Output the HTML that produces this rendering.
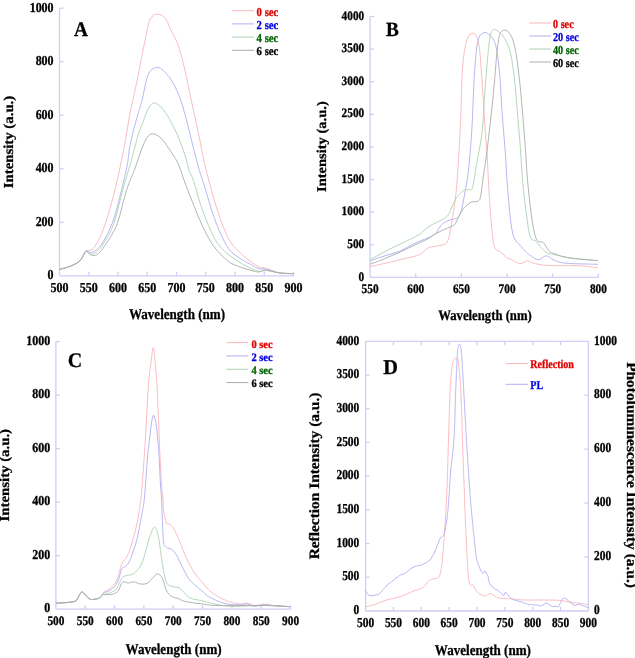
<!DOCTYPE html>
<html><head><meta charset="utf-8"><style>
html,body{margin:0;padding:0;background:#fff;}
body{width:635px;height:658px;overflow:hidden;}
svg{display:block;will-change:transform;}
text{font-family:"Liberation Serif", serif;font-weight:bold;text-rendering:geometricPrecision;}
</style></head><body>
<svg width="635" height="658" viewBox="0 0 635 658">
<rect width="635" height="658" fill="#fff"/>
<line x1="59.50" y1="8.20" x2="59.50" y2="275.80" stroke="#cecdf6" stroke-width="1.30"/>
<line x1="59.50" y1="275.80" x2="293.50" y2="275.80" stroke="#cecdf6" stroke-width="1.30"/>
<line x1="88.75" y1="275.80" x2="88.75" y2="271.80" stroke="#cecdf6" stroke-width="1.30"/>
<line x1="118.00" y1="275.80" x2="118.00" y2="271.80" stroke="#cecdf6" stroke-width="1.30"/>
<line x1="147.25" y1="275.80" x2="147.25" y2="271.80" stroke="#cecdf6" stroke-width="1.30"/>
<line x1="176.50" y1="275.80" x2="176.50" y2="271.80" stroke="#cecdf6" stroke-width="1.30"/>
<line x1="205.75" y1="275.80" x2="205.75" y2="271.80" stroke="#cecdf6" stroke-width="1.30"/>
<line x1="235.00" y1="275.80" x2="235.00" y2="271.80" stroke="#cecdf6" stroke-width="1.30"/>
<line x1="264.25" y1="275.80" x2="264.25" y2="271.80" stroke="#cecdf6" stroke-width="1.30"/>
<line x1="293.50" y1="275.80" x2="293.50" y2="271.80" stroke="#cecdf6" stroke-width="1.30"/>
<line x1="59.50" y1="222.28" x2="63.50" y2="222.28" stroke="#cecdf6" stroke-width="1.30"/>
<line x1="59.50" y1="168.76" x2="63.50" y2="168.76" stroke="#cecdf6" stroke-width="1.30"/>
<line x1="59.50" y1="115.24" x2="63.50" y2="115.24" stroke="#cecdf6" stroke-width="1.30"/>
<line x1="59.50" y1="61.72" x2="63.50" y2="61.72" stroke="#cecdf6" stroke-width="1.30"/>
<line x1="59.50" y1="8.20" x2="63.50" y2="8.20" stroke="#cecdf6" stroke-width="1.30"/>
<text transform="translate(53.60,279.30) scale(0.8750,1.0000)" font-size="13.70" text-anchor="end" fill="#000" stroke="#000" stroke-width="0.30" stroke-linejoin="round">0</text>
<text transform="translate(53.60,225.78) scale(0.8750,1.0000)" font-size="13.70" text-anchor="end" fill="#000" stroke="#000" stroke-width="0.30" stroke-linejoin="round">200</text>
<text transform="translate(53.60,172.26) scale(0.8750,1.0000)" font-size="13.70" text-anchor="end" fill="#000" stroke="#000" stroke-width="0.30" stroke-linejoin="round">400</text>
<text transform="translate(53.60,118.74) scale(0.8750,1.0000)" font-size="13.70" text-anchor="end" fill="#000" stroke="#000" stroke-width="0.30" stroke-linejoin="round">600</text>
<text transform="translate(53.60,65.22) scale(0.8750,1.0000)" font-size="13.70" text-anchor="end" fill="#000" stroke="#000" stroke-width="0.30" stroke-linejoin="round">800</text>
<text transform="translate(53.60,11.70) scale(0.8750,1.0000)" font-size="13.70" text-anchor="end" fill="#000" stroke="#000" stroke-width="0.30" stroke-linejoin="round">1000</text>
<text transform="translate(59.50,291.90) scale(0.8750,1.0000)" font-size="13.70" text-anchor="middle" fill="#000" stroke="#000" stroke-width="0.30" stroke-linejoin="round">500</text>
<text transform="translate(88.75,291.90) scale(0.8750,1.0000)" font-size="13.70" text-anchor="middle" fill="#000" stroke="#000" stroke-width="0.30" stroke-linejoin="round">550</text>
<text transform="translate(118.00,291.90) scale(0.8750,1.0000)" font-size="13.70" text-anchor="middle" fill="#000" stroke="#000" stroke-width="0.30" stroke-linejoin="round">600</text>
<text transform="translate(147.25,291.90) scale(0.8750,1.0000)" font-size="13.70" text-anchor="middle" fill="#000" stroke="#000" stroke-width="0.30" stroke-linejoin="round">650</text>
<text transform="translate(176.50,291.90) scale(0.8750,1.0000)" font-size="13.70" text-anchor="middle" fill="#000" stroke="#000" stroke-width="0.30" stroke-linejoin="round">700</text>
<text transform="translate(205.75,291.90) scale(0.8750,1.0000)" font-size="13.70" text-anchor="middle" fill="#000" stroke="#000" stroke-width="0.30" stroke-linejoin="round">750</text>
<text transform="translate(235.00,291.90) scale(0.8750,1.0000)" font-size="13.70" text-anchor="middle" fill="#000" stroke="#000" stroke-width="0.30" stroke-linejoin="round">800</text>
<text transform="translate(264.25,291.90) scale(0.8750,1.0000)" font-size="13.70" text-anchor="middle" fill="#000" stroke="#000" stroke-width="0.30" stroke-linejoin="round">850</text>
<text transform="translate(293.50,291.90) scale(0.8750,1.0000)" font-size="13.70" text-anchor="middle" fill="#000" stroke="#000" stroke-width="0.30" stroke-linejoin="round">900</text>
<path fill="none" stroke="#f8b6bb" stroke-width="0.90" stroke-linejoin="round" d="M59.3,269.4 C60.8,269.0 65.1,268.1 68.1,267.0 C71.1,265.9 75.0,264.3 77.3,262.8 C79.6,261.3 80.4,260.1 81.8,258.2 C83.2,256.3 84.8,252.5 85.9,251.2 C87.1,249.9 87.5,250.9 88.7,250.5 C89.9,250.1 91.5,250.4 93.2,248.6 C94.9,246.8 97.0,243.3 98.9,239.5 C100.8,235.7 102.5,231.9 104.6,225.8 C106.7,219.7 109.2,211.4 111.5,203.0 C113.8,194.6 116.0,185.9 118.3,175.6 C120.6,165.3 123.2,151.8 125.2,141.4 C127.2,131.1 127.9,124.2 130.0,113.5 C132.1,102.8 134.7,92.0 137.7,77.4 C140.7,62.8 145.7,35.9 148.1,25.8 C150.5,15.7 151.0,18.9 152.1,17.0 C153.2,15.2 153.6,15.1 154.5,14.7 C155.4,14.2 156.3,14.2 157.4,14.3 C158.5,14.4 159.6,14.2 161.0,15.0 C162.4,15.8 164.4,16.7 166.1,19.4 C167.8,22.1 169.4,26.9 171.3,31.0 C173.2,35.1 175.5,37.9 177.7,43.9 C179.8,49.9 181.8,57.2 184.2,67.1 C186.6,77.0 189.3,91.2 191.9,103.2 C194.5,115.2 197.6,129.2 199.7,139.4 C201.8,149.6 202.3,154.4 204.7,164.2 C207.0,174.0 210.8,188.1 213.8,198.4 C216.8,208.7 219.9,218.2 222.9,225.8 C225.9,233.4 228.0,238.6 232.0,244.1 C236.0,249.6 242.7,255.0 247.0,258.7 C251.3,262.4 255.3,264.9 258.1,266.5 C260.9,268.1 262.2,267.6 264.0,268.0 C265.8,268.4 266.8,268.4 269.1,269.2 C271.4,269.9 273.8,271.8 277.9,272.5 C282.0,273.2 291.0,273.4 293.6,273.6"/>
<path fill="none" stroke="#afaff4" stroke-width="0.90" stroke-linejoin="round" d="M59.3,269.4 C60.8,269.0 65.1,268.1 68.1,267.0 C71.1,265.9 75.0,264.3 77.3,262.8 C79.6,261.3 80.4,260.1 81.8,258.2 C83.2,256.3 84.8,252.2 85.9,251.2 C87.1,250.2 87.5,251.9 88.7,252.0 C89.9,252.1 91.3,252.9 93.2,252.0 C95.1,251.1 97.7,249.2 100.0,246.4 C102.3,243.6 104.6,239.6 106.9,235.0 C109.2,230.4 111.5,225.8 113.8,219.0 C116.1,212.2 118.3,203.0 120.6,193.9 C122.9,184.8 126.0,171.5 127.4,164.2 C128.8,156.9 128.4,154.8 129.2,150.0 C130.0,145.2 131.2,139.8 132.2,135.7 C133.1,131.5 133.8,129.1 134.9,125.1 C136.0,121.0 137.5,115.6 138.7,111.4 C139.9,107.2 140.5,106.1 142.1,100.0 C143.7,93.9 145.8,80.2 148.1,74.8 C150.4,69.4 153.4,68.4 155.8,67.6 C158.2,66.8 159.7,67.6 162.3,69.7 C164.9,71.8 168.5,75.7 171.3,80.0 C174.1,84.3 176.6,89.5 179.0,95.5 C181.4,101.5 183.1,107.5 185.5,116.1 C187.9,124.7 190.9,138.1 193.2,147.1 C195.5,156.1 197.3,163.2 199.2,169.8 C201.1,176.5 202.3,179.2 204.7,187.0 C207.1,194.8 210.8,208.1 213.8,216.7 C216.8,225.3 220.1,232.8 222.9,238.5 C225.7,244.2 227.4,247.5 230.5,251.0 C233.6,254.5 237.8,256.9 241.5,259.3 C245.2,261.7 249.8,263.9 252.6,265.4 C255.4,266.9 256.2,267.9 258.1,268.5 C260.0,269.1 262.2,268.6 264.0,268.8 C265.8,269.0 266.4,269.1 269.1,269.8 C271.8,270.5 276.0,272.4 280.1,273.0 C284.2,273.6 291.4,273.6 293.6,273.7"/>
<path fill="none" stroke="#abd2b1" stroke-width="0.90" stroke-linejoin="round" d="M59.3,269.4 C60.8,269.0 65.1,268.1 68.1,267.0 C71.1,265.9 75.0,264.3 77.3,262.8 C79.6,261.3 80.4,260.1 81.8,258.2 C83.2,256.3 84.4,251.8 85.9,251.2 C87.4,250.5 89.0,254.4 91.0,254.3 C93.0,254.2 95.5,253.0 97.8,250.9 C100.1,248.8 101.9,246.4 104.6,241.8 C107.3,237.2 110.8,232.2 113.8,223.5 C116.8,214.8 120.2,199.0 122.9,189.3 C125.6,179.6 128.1,171.8 130.0,165.2 C131.9,158.6 132.9,154.5 134.1,150.0 C135.3,145.5 136.2,141.5 137.2,138.0 C138.2,134.5 139.2,131.7 140.2,128.9 C141.2,126.1 142.3,124.0 143.3,121.3 C144.3,118.6 145.3,115.3 146.3,112.9 C147.3,110.5 148.0,108.5 149.3,106.8 C150.6,105.1 152.0,103.0 153.9,103.0 C155.8,103.0 158.4,104.5 161.0,107.1 C163.6,109.7 166.5,114.2 169.2,118.7 C171.9,123.2 174.5,128.2 177.1,134.2 C179.7,140.2 182.9,148.9 184.9,154.8 C186.9,160.7 187.4,165.6 188.8,169.8 C190.2,174.0 191.0,173.5 193.3,180.2 C195.6,186.9 199.0,200.4 202.4,209.9 C205.8,219.4 210.0,230.2 213.8,237.2 C217.6,244.1 221.3,247.8 225.0,251.6 C228.7,255.4 232.3,257.3 236.0,259.8 C239.7,262.3 243.3,264.6 247.0,266.5 C250.7,268.4 255.3,270.6 258.1,271.2 C260.9,271.8 262.2,270.1 264.0,270.0 C265.8,269.9 266.4,270.1 269.1,270.6 C271.8,271.1 275.9,272.5 280.0,273.0 C284.1,273.5 291.3,273.6 293.6,273.7"/>
<path fill="none" stroke="#acacac" stroke-width="0.90" stroke-linejoin="round" d="M59.3,269.4 C60.8,269.0 65.1,268.1 68.1,267.0 C71.1,265.9 75.0,264.3 77.3,262.8 C79.6,261.3 80.4,260.1 81.8,258.2 C83.2,256.3 84.2,251.6 85.9,251.2 C87.6,250.8 89.9,255.2 92.1,255.5 C94.3,255.8 96.4,255.5 98.9,253.2 C101.4,250.9 104.2,246.8 107.3,241.8 C110.4,236.9 114.0,232.2 117.3,223.5 C120.5,214.8 123.9,198.2 126.8,189.3 C129.7,180.4 132.1,176.4 134.5,169.8 C136.9,163.2 139.6,154.7 141.3,150.0 C143.0,145.3 143.7,144.1 144.8,141.8 C145.9,139.6 146.5,137.8 147.8,136.5 C149.1,135.2 150.3,133.4 152.5,133.7 C154.7,134.0 158.3,135.6 161.0,138.1 C163.7,140.6 165.9,144.3 168.7,148.4 C171.5,152.5 175.1,157.3 177.7,162.6 C180.3,167.9 181.9,174.2 184.1,180.2 C186.3,186.2 187.9,190.8 191.0,198.4 C194.1,206.0 198.6,217.8 202.4,225.8 C206.2,233.8 209.6,240.6 213.8,246.4 C218.0,252.2 223.8,257.6 227.5,260.8 C231.2,264.0 232.8,264.0 236.0,265.4 C239.2,266.8 243.3,268.1 247.0,269.2 C250.7,270.3 255.3,271.8 258.1,272.0 C260.9,272.2 262.2,270.7 264.0,270.5 C265.8,270.3 266.4,270.5 269.1,270.9 C271.8,271.3 275.9,272.5 280.0,273.0 C284.1,273.5 291.3,273.6 293.6,273.7"/>
<text transform="translate(74.00,35.60) scale(0.9200,1.0000)" font-size="21.00" text-anchor="start" fill="#000" stroke="#000" stroke-width="0.30" stroke-linejoin="round">A</text>
<text transform="translate(177.00,319.20) scale(0.8700,1.0000)" font-size="15.00" text-anchor="middle" fill="#000" stroke="#000" stroke-width="0.30" stroke-linejoin="round">Wavelength (nm)</text>
<text transform="translate(13.20,142.00) scale(0.9300,1.0000) rotate(-90)" font-size="14.80" text-anchor="middle" fill="#000" stroke="#000" stroke-width="0.30" stroke-linejoin="round">Intensity (a.u.)</text>
<line x1="232.00" y1="10.70" x2="254.00" y2="10.70" stroke="#f8b6bb" stroke-width="1.00"/>
<text transform="translate(256.60,15.50) scale(0.8800,1.0000)" font-size="12.20" text-anchor="start" fill="#e00000" stroke="#e00000" stroke-width="0.30" stroke-linejoin="round">0 sec</text>
<line x1="232.00" y1="23.90" x2="254.00" y2="23.90" stroke="#afaff4" stroke-width="1.00"/>
<text transform="translate(256.60,28.70) scale(0.8800,1.0000)" font-size="12.20" text-anchor="start" fill="#0000e0" stroke="#0000e0" stroke-width="0.30" stroke-linejoin="round">2 sec</text>
<line x1="232.00" y1="37.10" x2="254.00" y2="37.10" stroke="#abd2b1" stroke-width="1.00"/>
<text transform="translate(256.60,41.90) scale(0.8800,1.0000)" font-size="12.20" text-anchor="start" fill="#006400" stroke="#006400" stroke-width="0.30" stroke-linejoin="round">4 sec</text>
<line x1="232.00" y1="50.30" x2="254.00" y2="50.30" stroke="#acacac" stroke-width="1.00"/>
<text transform="translate(256.60,55.10) scale(0.8800,1.0000)" font-size="12.20" text-anchor="start" fill="#000000" stroke="#000000" stroke-width="0.30" stroke-linejoin="round">6 sec</text>
<line x1="370.10" y1="16.50" x2="370.10" y2="277.40" stroke="#cecdf6" stroke-width="1.30"/>
<line x1="370.10" y1="277.40" x2="598.40" y2="277.40" stroke="#cecdf6" stroke-width="1.30"/>
<line x1="415.76" y1="277.40" x2="415.76" y2="273.40" stroke="#cecdf6" stroke-width="1.30"/>
<line x1="461.42" y1="277.40" x2="461.42" y2="273.40" stroke="#cecdf6" stroke-width="1.30"/>
<line x1="507.08" y1="277.40" x2="507.08" y2="273.40" stroke="#cecdf6" stroke-width="1.30"/>
<line x1="552.74" y1="277.40" x2="552.74" y2="273.40" stroke="#cecdf6" stroke-width="1.30"/>
<line x1="598.40" y1="277.40" x2="598.40" y2="273.40" stroke="#cecdf6" stroke-width="1.30"/>
<line x1="370.10" y1="244.79" x2="374.10" y2="244.79" stroke="#cecdf6" stroke-width="1.30"/>
<line x1="370.10" y1="212.17" x2="374.10" y2="212.17" stroke="#cecdf6" stroke-width="1.30"/>
<line x1="370.10" y1="179.56" x2="374.10" y2="179.56" stroke="#cecdf6" stroke-width="1.30"/>
<line x1="370.10" y1="146.95" x2="374.10" y2="146.95" stroke="#cecdf6" stroke-width="1.30"/>
<line x1="370.10" y1="114.34" x2="374.10" y2="114.34" stroke="#cecdf6" stroke-width="1.30"/>
<line x1="370.10" y1="81.72" x2="374.10" y2="81.72" stroke="#cecdf6" stroke-width="1.30"/>
<line x1="370.10" y1="49.11" x2="374.10" y2="49.11" stroke="#cecdf6" stroke-width="1.30"/>
<line x1="370.10" y1="16.50" x2="374.10" y2="16.50" stroke="#cecdf6" stroke-width="1.30"/>
<text transform="translate(364.20,280.50) scale(0.8700,1.0000)" font-size="13.00" text-anchor="end" fill="#000" stroke="#000" stroke-width="0.30" stroke-linejoin="round">0</text>
<text transform="translate(364.20,247.89) scale(0.8700,1.0000)" font-size="13.00" text-anchor="end" fill="#000" stroke="#000" stroke-width="0.30" stroke-linejoin="round">500</text>
<text transform="translate(364.20,215.27) scale(0.8700,1.0000)" font-size="13.00" text-anchor="end" fill="#000" stroke="#000" stroke-width="0.30" stroke-linejoin="round">1000</text>
<text transform="translate(364.20,182.66) scale(0.8700,1.0000)" font-size="13.00" text-anchor="end" fill="#000" stroke="#000" stroke-width="0.30" stroke-linejoin="round">1500</text>
<text transform="translate(364.20,150.05) scale(0.8700,1.0000)" font-size="13.00" text-anchor="end" fill="#000" stroke="#000" stroke-width="0.30" stroke-linejoin="round">2000</text>
<text transform="translate(364.20,117.44) scale(0.8700,1.0000)" font-size="13.00" text-anchor="end" fill="#000" stroke="#000" stroke-width="0.30" stroke-linejoin="round">2500</text>
<text transform="translate(364.20,84.82) scale(0.8700,1.0000)" font-size="13.00" text-anchor="end" fill="#000" stroke="#000" stroke-width="0.30" stroke-linejoin="round">3000</text>
<text transform="translate(364.20,52.21) scale(0.8700,1.0000)" font-size="13.00" text-anchor="end" fill="#000" stroke="#000" stroke-width="0.30" stroke-linejoin="round">3500</text>
<text transform="translate(364.20,19.60) scale(0.8700,1.0000)" font-size="13.00" text-anchor="end" fill="#000" stroke="#000" stroke-width="0.30" stroke-linejoin="round">4000</text>
<text transform="translate(370.10,292.60) scale(0.8700,1.0000)" font-size="13.00" text-anchor="middle" fill="#000" stroke="#000" stroke-width="0.30" stroke-linejoin="round">550</text>
<text transform="translate(415.76,292.60) scale(0.8700,1.0000)" font-size="13.00" text-anchor="middle" fill="#000" stroke="#000" stroke-width="0.30" stroke-linejoin="round">600</text>
<text transform="translate(461.42,292.60) scale(0.8700,1.0000)" font-size="13.00" text-anchor="middle" fill="#000" stroke="#000" stroke-width="0.30" stroke-linejoin="round">650</text>
<text transform="translate(507.08,292.60) scale(0.8700,1.0000)" font-size="13.00" text-anchor="middle" fill="#000" stroke="#000" stroke-width="0.30" stroke-linejoin="round">700</text>
<text transform="translate(552.74,292.60) scale(0.8700,1.0000)" font-size="13.00" text-anchor="middle" fill="#000" stroke="#000" stroke-width="0.30" stroke-linejoin="round">750</text>
<text transform="translate(598.40,292.60) scale(0.8700,1.0000)" font-size="13.00" text-anchor="middle" fill="#000" stroke="#000" stroke-width="0.30" stroke-linejoin="round">800</text>
<path fill="none" stroke="#f8b6bb" stroke-width="0.90" stroke-linejoin="round" d="M370.0,266.8 C371.7,266.4 376.7,265.2 380.0,264.4 C383.3,263.6 386.7,263.0 390.0,262.2 C393.3,261.4 396.7,260.4 400.0,259.6 C403.3,258.8 406.7,258.3 410.0,257.4 C413.3,256.5 416.9,255.9 420.0,254.3 C423.1,252.7 425.8,249.2 428.3,247.9 C430.8,246.6 432.6,246.9 435.2,246.3 C437.8,245.7 442.0,245.6 444.1,244.5 C446.2,243.4 446.9,243.1 448.1,240.0 C449.3,236.9 450.1,231.3 451.1,226.0 C452.1,220.7 453.1,214.9 454.0,208.0 C454.9,201.1 455.8,197.7 456.8,184.7 C457.8,171.7 459.3,148.6 460.2,130.0 C461.1,111.4 461.5,86.9 462.3,73.2 C463.1,59.5 464.0,53.9 465.1,47.7 C466.2,41.5 467.4,38.4 468.7,36.0 C470.0,33.6 471.7,33.1 473.0,33.2 C474.3,33.3 475.5,34.2 476.6,36.6 C477.7,39.0 478.6,41.6 479.4,47.7 C480.2,53.8 480.8,63.6 481.5,73.2 C482.2,82.8 482.9,94.5 483.6,105.1 C484.3,115.7 485.1,129.5 485.7,137.0 C486.2,144.5 486.4,141.2 486.9,150.0 C487.4,158.8 488.1,176.3 488.9,189.5 C489.7,202.7 490.9,219.4 491.9,229.1 C492.9,238.8 493.3,244.1 494.8,247.9 C496.3,251.7 499.0,250.3 500.8,251.8 C502.6,253.3 503.6,255.3 505.7,256.8 C507.8,258.3 511.1,259.6 513.6,260.7 C516.1,261.8 518.2,263.7 520.5,263.7 C522.8,263.7 525.4,260.8 527.5,260.7 C529.6,260.6 530.8,262.4 533.4,263.1 C536.0,263.8 539.0,264.7 543.3,265.1 C547.6,265.5 553.2,265.6 559.1,265.7 C565.0,265.8 572.4,265.4 578.9,265.7 C585.4,266.0 594.8,267.3 598.0,267.6"/>
<path fill="none" stroke="#afaff4" stroke-width="0.90" stroke-linejoin="round" d="M370.0,261.0 C371.7,260.4 376.7,258.5 380.0,257.4 C383.3,256.3 386.7,255.4 390.0,254.3 C393.3,253.2 396.7,252.5 400.0,251.1 C403.3,249.7 406.7,247.4 410.0,245.7 C413.3,244.0 417.0,242.3 420.0,241.0 C423.0,239.7 425.5,239.0 428.0,237.8 C430.5,236.6 433.3,235.6 435.2,234.0 C437.1,232.4 437.9,229.9 439.2,228.1 C440.5,226.3 441.5,224.5 443.2,223.2 C444.9,221.9 446.7,221.1 449.1,220.2 C451.5,219.3 455.4,219.4 457.5,217.6 C459.6,215.8 460.4,213.6 461.6,209.3 C462.9,205.0 463.9,198.0 465.0,191.6 C466.1,185.2 467.3,181.3 468.4,171.0 C469.5,160.7 470.8,146.3 471.8,130.0 C472.8,113.7 473.5,88.0 474.5,73.2 C475.5,58.4 476.4,48.0 477.9,41.3 C479.4,34.6 481.6,33.8 483.6,32.8 C485.6,31.8 488.0,33.2 490.0,35.3 C492.0,37.4 494.1,39.2 495.7,45.5 C497.3,51.8 498.5,61.5 499.6,73.2 C500.7,84.9 501.3,102.1 502.3,115.7 C503.3,129.3 504.6,142.7 505.5,155.0 C506.4,167.3 506.5,176.5 507.7,189.5 C508.9,202.5 510.3,223.4 512.6,233.0 C514.9,242.6 518.7,243.3 521.5,246.9 C524.3,250.5 526.6,252.7 529.4,254.8 C532.2,256.9 535.5,259.5 538.3,259.7 C541.1,259.9 543.7,255.8 546.2,255.8 C548.7,255.8 550.1,258.5 553.2,259.7 C556.3,260.9 557.5,262.3 565.0,263.1 C572.5,263.9 592.5,264.1 598.0,264.3"/>
<path fill="none" stroke="#abd2b1" stroke-width="0.90" stroke-linejoin="round" d="M370.0,259.7 C371.7,258.8 376.7,256.1 380.0,254.3 C383.3,252.5 386.7,250.6 390.0,248.9 C393.3,247.2 396.7,245.7 400.0,244.1 C403.3,242.5 406.7,241.1 410.0,239.4 C413.3,237.7 417.0,236.1 420.0,234.0 C423.0,231.9 425.1,229.1 428.0,227.1 C430.9,225.1 434.0,224.0 437.2,222.2 C440.4,220.4 444.6,219.1 447.1,216.5 C449.6,213.9 450.5,209.6 452.0,206.6 C453.5,203.6 454.7,200.7 456.1,198.4 C457.5,196.1 459.1,194.4 460.5,193.0 C461.9,191.6 463.0,190.8 464.3,190.2 C465.6,189.6 467.0,189.9 468.4,189.5 C469.8,189.1 471.1,191.7 472.5,187.5 C473.9,183.3 475.0,173.3 476.6,164.2 C478.2,155.1 480.6,144.6 482.0,133.0 C483.4,121.4 483.8,106.2 484.7,94.5 C485.6,82.8 486.3,72.2 487.2,62.6 C488.1,53.0 489.0,42.5 490.0,37.0 C491.0,31.5 491.8,30.5 493.2,29.6 C494.6,28.7 496.7,30.5 498.5,31.7 C500.3,32.9 501.9,33.6 503.8,37.0 C505.8,40.4 508.4,44.8 510.2,51.9 C512.0,59.0 513.2,69.0 514.5,79.6 C515.8,90.2 516.7,104.0 517.7,115.7 C518.7,127.4 519.7,139.3 520.5,150.0 C521.3,160.7 521.5,168.8 522.5,179.7 C523.5,190.6 525.2,205.6 526.5,215.2 C527.8,224.8 528.8,232.7 530.4,237.0 C532.0,241.3 534.6,239.7 536.3,241.3 C537.9,243.0 538.5,245.0 540.3,246.9 C542.1,248.8 544.7,251.5 547.2,252.8 C549.7,254.1 551.5,254.0 555.1,254.8 C558.7,255.6 561.9,256.8 569.0,257.8 C576.1,258.8 593.2,260.2 598.0,260.7"/>
<path fill="none" stroke="#acacac" stroke-width="0.90" stroke-linejoin="round" d="M370.0,264.2 C371.7,263.6 376.7,261.9 380.0,260.6 C383.3,259.3 386.7,257.8 390.0,256.4 C393.3,255.0 396.7,253.6 400.0,252.1 C403.3,250.6 406.7,248.9 410.0,247.3 C413.3,245.7 417.0,244.0 420.0,242.6 C423.0,241.2 425.5,240.2 428.0,238.8 C430.5,237.4 432.3,235.6 435.2,234.0 C438.1,232.4 442.0,230.6 445.1,229.1 C448.2,227.6 451.9,226.9 454.0,225.1 C456.1,223.3 456.5,220.8 458.0,218.2 C459.5,215.6 460.8,211.9 462.9,209.3 C465.0,206.7 468.2,203.8 470.8,202.4 C473.4,201.0 476.7,202.2 478.3,201.0 C479.9,199.8 479.8,200.1 480.7,195.5 C481.6,190.9 482.7,180.4 483.7,173.7 C484.7,166.9 485.3,164.7 486.5,155.0 C487.7,145.3 489.8,127.6 491.1,115.7 C492.4,103.8 493.3,94.4 494.3,83.8 C495.3,73.2 496.1,60.0 497.0,51.9 C497.9,43.8 498.5,38.5 499.6,34.9 C500.7,31.3 502.2,30.6 503.8,30.2 C505.4,29.8 507.3,30.2 509.1,32.8 C510.9,35.3 512.9,38.8 514.5,45.5 C516.1,52.2 517.5,63.3 518.7,73.2 C519.9,83.1 520.8,92.3 521.9,105.1 C523.0,117.9 524.6,137.6 525.5,150.0 C526.4,162.4 526.5,168.8 527.5,179.7 C528.5,190.6 529.9,205.3 531.4,215.2 C532.9,225.1 534.3,234.4 536.3,239.0 C538.3,243.6 541.3,240.7 543.3,242.5 C545.3,244.3 546.6,248.0 548.2,249.8 C549.9,251.6 549.7,251.9 553.2,253.2 C556.7,254.5 561.5,256.6 569.0,257.8 C576.5,259.1 593.2,260.2 598.0,260.7"/>
<text transform="translate(386.10,36.30) scale(0.9500,1.0000)" font-size="20.20" text-anchor="start" fill="#000" stroke="#000" stroke-width="0.30" stroke-linejoin="round">B</text>
<text transform="translate(485.00,320.00) scale(0.8700,1.0000)" font-size="14.60" text-anchor="middle" fill="#000" stroke="#000" stroke-width="0.30" stroke-linejoin="round">Wavelength (nm)</text>
<text transform="translate(326.30,146.60) scale(0.9300,1.0000) rotate(-90)" font-size="14.50" text-anchor="middle" fill="#000" stroke="#000" stroke-width="0.30" stroke-linejoin="round">Intensity (a.u.)</text>
<line x1="529.40" y1="23.00" x2="551.00" y2="23.00" stroke="#f8b6bb" stroke-width="1.00"/>
<text transform="translate(553.00,27.60) scale(0.8500,1.0000)" font-size="12.00" text-anchor="start" fill="#e00000" stroke="#e00000" stroke-width="0.30" stroke-linejoin="round">0 sec</text>
<line x1="529.40" y1="36.00" x2="551.00" y2="36.00" stroke="#afaff4" stroke-width="1.00"/>
<text transform="translate(553.00,40.60) scale(0.8500,1.0000)" font-size="12.00" text-anchor="start" fill="#0000e0" stroke="#0000e0" stroke-width="0.30" stroke-linejoin="round">20 sec</text>
<line x1="529.40" y1="49.00" x2="551.00" y2="49.00" stroke="#abd2b1" stroke-width="1.00"/>
<text transform="translate(553.00,53.60) scale(0.8500,1.0000)" font-size="12.00" text-anchor="start" fill="#006400" stroke="#006400" stroke-width="0.30" stroke-linejoin="round">40 sec</text>
<line x1="529.40" y1="62.00" x2="551.00" y2="62.00" stroke="#acacac" stroke-width="1.00"/>
<text transform="translate(553.00,66.60) scale(0.8500,1.0000)" font-size="12.00" text-anchor="start" fill="#000000" stroke="#000000" stroke-width="0.30" stroke-linejoin="round">60 sec</text>
<line x1="55.90" y1="341.60" x2="55.90" y2="609.20" stroke="#cecdf6" stroke-width="1.30"/>
<line x1="55.90" y1="609.20" x2="290.60" y2="609.20" stroke="#cecdf6" stroke-width="1.30"/>
<line x1="85.24" y1="609.20" x2="85.24" y2="605.20" stroke="#cecdf6" stroke-width="1.30"/>
<line x1="114.58" y1="609.20" x2="114.58" y2="605.20" stroke="#cecdf6" stroke-width="1.30"/>
<line x1="143.91" y1="609.20" x2="143.91" y2="605.20" stroke="#cecdf6" stroke-width="1.30"/>
<line x1="173.25" y1="609.20" x2="173.25" y2="605.20" stroke="#cecdf6" stroke-width="1.30"/>
<line x1="202.59" y1="609.20" x2="202.59" y2="605.20" stroke="#cecdf6" stroke-width="1.30"/>
<line x1="231.93" y1="609.20" x2="231.93" y2="605.20" stroke="#cecdf6" stroke-width="1.30"/>
<line x1="261.26" y1="609.20" x2="261.26" y2="605.20" stroke="#cecdf6" stroke-width="1.30"/>
<line x1="290.60" y1="609.20" x2="290.60" y2="605.20" stroke="#cecdf6" stroke-width="1.30"/>
<line x1="55.90" y1="555.68" x2="59.90" y2="555.68" stroke="#cecdf6" stroke-width="1.30"/>
<line x1="55.90" y1="502.16" x2="59.90" y2="502.16" stroke="#cecdf6" stroke-width="1.30"/>
<line x1="55.90" y1="448.64" x2="59.90" y2="448.64" stroke="#cecdf6" stroke-width="1.30"/>
<line x1="55.90" y1="395.12" x2="59.90" y2="395.12" stroke="#cecdf6" stroke-width="1.30"/>
<line x1="55.90" y1="341.60" x2="59.90" y2="341.60" stroke="#cecdf6" stroke-width="1.30"/>
<text transform="translate(50.20,612.40) scale(0.8750,1.0000)" font-size="13.70" text-anchor="end" fill="#000" stroke="#000" stroke-width="0.30" stroke-linejoin="round">0</text>
<text transform="translate(50.20,558.88) scale(0.8750,1.0000)" font-size="13.70" text-anchor="end" fill="#000" stroke="#000" stroke-width="0.30" stroke-linejoin="round">200</text>
<text transform="translate(50.20,505.36) scale(0.8750,1.0000)" font-size="13.70" text-anchor="end" fill="#000" stroke="#000" stroke-width="0.30" stroke-linejoin="round">400</text>
<text transform="translate(50.20,451.84) scale(0.8750,1.0000)" font-size="13.70" text-anchor="end" fill="#000" stroke="#000" stroke-width="0.30" stroke-linejoin="round">600</text>
<text transform="translate(50.20,398.32) scale(0.8750,1.0000)" font-size="13.70" text-anchor="end" fill="#000" stroke="#000" stroke-width="0.30" stroke-linejoin="round">800</text>
<text transform="translate(50.20,344.80) scale(0.8750,1.0000)" font-size="13.70" text-anchor="end" fill="#000" stroke="#000" stroke-width="0.30" stroke-linejoin="round">1000</text>
<text transform="translate(55.90,624.50) scale(0.8700,1.0000)" font-size="13.00" text-anchor="middle" fill="#000" stroke="#000" stroke-width="0.30" stroke-linejoin="round">500</text>
<text transform="translate(85.24,624.50) scale(0.8700,1.0000)" font-size="13.00" text-anchor="middle" fill="#000" stroke="#000" stroke-width="0.30" stroke-linejoin="round">550</text>
<text transform="translate(114.58,624.50) scale(0.8700,1.0000)" font-size="13.00" text-anchor="middle" fill="#000" stroke="#000" stroke-width="0.30" stroke-linejoin="round">600</text>
<text transform="translate(143.91,624.50) scale(0.8700,1.0000)" font-size="13.00" text-anchor="middle" fill="#000" stroke="#000" stroke-width="0.30" stroke-linejoin="round">650</text>
<text transform="translate(173.25,624.50) scale(0.8700,1.0000)" font-size="13.00" text-anchor="middle" fill="#000" stroke="#000" stroke-width="0.30" stroke-linejoin="round">700</text>
<text transform="translate(202.59,624.50) scale(0.8700,1.0000)" font-size="13.00" text-anchor="middle" fill="#000" stroke="#000" stroke-width="0.30" stroke-linejoin="round">750</text>
<text transform="translate(231.93,624.50) scale(0.8700,1.0000)" font-size="13.00" text-anchor="middle" fill="#000" stroke="#000" stroke-width="0.30" stroke-linejoin="round">800</text>
<text transform="translate(261.26,624.50) scale(0.8700,1.0000)" font-size="13.00" text-anchor="middle" fill="#000" stroke="#000" stroke-width="0.30" stroke-linejoin="round">850</text>
<text transform="translate(290.60,624.50) scale(0.8700,1.0000)" font-size="13.00" text-anchor="middle" fill="#000" stroke="#000" stroke-width="0.30" stroke-linejoin="round">900</text>
<path fill="none" stroke="#f8b6bb" stroke-width="0.90" stroke-linejoin="round" d="M56.0,603.1 C57.8,603.0 63.7,602.9 67.0,602.5 C70.3,602.1 73.8,602.1 75.8,600.9 C77.8,599.7 78.2,596.9 79.2,595.4 C80.2,593.9 80.9,592.1 81.9,592.0 C82.9,591.9 84.0,593.7 85.2,594.8 C86.4,595.9 87.9,597.9 89.1,598.7 C90.3,599.5 90.8,599.6 92.4,599.5 C94.1,599.4 97.3,598.9 99.0,598.1 C100.7,597.3 101.4,595.9 102.3,594.8 C103.2,593.7 103.2,592.5 104.3,591.6 C105.4,590.7 107.2,590.7 109.0,589.3 C110.8,587.9 113.4,585.5 114.9,583.4 C116.4,581.3 117.3,579.2 118.2,576.7 C119.1,574.2 119.5,571.0 120.3,568.4 C121.1,565.8 122.1,563.3 123.2,561.3 C124.3,559.3 125.5,559.5 127.0,556.5 C128.5,553.5 130.3,548.7 132.0,543.0 C133.7,537.3 135.8,529.0 137.2,522.5 C138.6,516.0 139.4,509.7 140.2,504.3 C141.0,498.9 141.0,500.7 141.8,490.0 C142.7,479.3 144.2,457.4 145.3,440.0 C146.4,422.6 147.5,398.5 148.4,385.6 C149.3,372.7 150.3,368.7 151.0,362.8 C151.7,356.9 152.1,352.5 152.5,350.0 C152.9,347.5 152.9,347.6 153.2,347.6 C153.4,347.6 153.7,347.5 154.0,350.0 C154.3,352.5 154.7,356.9 155.2,362.8 C155.7,368.7 156.3,372.7 157.0,385.6 C157.7,398.5 158.6,424.3 159.3,440.0 C160.0,455.7 160.6,470.0 161.2,480.0 C161.8,490.0 162.6,495.0 163.0,500.0 C163.4,505.0 163.0,506.2 163.6,510.0 C164.2,513.8 165.4,520.6 166.4,522.9 C167.4,525.2 168.2,523.1 169.4,524.0 C170.6,524.9 171.9,525.3 173.7,528.4 C175.5,531.5 178.0,537.5 180.1,542.5 C182.2,547.5 184.2,553.5 186.5,558.5 C188.8,563.5 191.6,568.4 194.1,572.3 C196.6,576.1 198.6,578.3 201.5,581.6 C204.4,584.9 207.3,589.1 211.4,592.3 C215.5,595.5 221.6,598.7 226.3,600.6 C231.0,602.5 236.2,603.5 239.5,603.9 C242.8,604.3 243.7,602.8 246.2,603.1 C248.7,603.4 251.4,605.3 254.4,605.5 C257.4,605.7 261.0,604.2 264.3,604.2 C267.6,604.2 270.0,605.1 274.3,605.5 C278.6,605.9 287.4,606.5 290.0,606.7"/>
<path fill="none" stroke="#afaff4" stroke-width="0.90" stroke-linejoin="round" d="M56.0,603.1 C57.8,603.0 63.7,602.9 67.0,602.5 C70.3,602.1 73.8,602.1 75.8,600.9 C77.8,599.7 78.2,596.9 79.2,595.4 C80.2,593.9 80.9,592.1 81.9,592.0 C82.9,591.9 84.0,593.7 85.2,594.8 C86.4,595.9 87.9,597.9 89.1,598.7 C90.3,599.5 90.8,599.6 92.4,599.5 C94.1,599.4 97.3,598.9 99.0,598.1 C100.7,597.3 101.4,595.7 102.3,594.8 C103.2,593.9 103.0,593.3 104.3,592.6 C105.5,591.9 107.9,591.8 109.8,590.5 C111.7,589.2 114.2,587.1 115.7,585.1 C117.2,583.1 118.0,581.0 119.0,578.4 C120.0,575.8 120.5,571.2 121.5,569.2 C122.5,567.2 123.6,567.9 124.9,566.7 C126.2,565.5 127.8,564.5 129.1,562.0 C130.4,559.5 131.7,556.0 133.0,552.0 C134.3,548.0 135.8,544.2 137.2,538.3 C138.6,532.4 140.2,523.2 141.4,516.5 C142.6,509.8 143.4,508.3 144.4,498.2 C145.4,488.1 146.8,465.7 147.6,456.0 C148.4,446.3 148.8,445.4 149.4,440.0 C150.0,434.6 150.9,427.4 151.4,423.6 C151.9,419.8 152.3,418.4 152.7,417.0 C153.0,415.6 153.2,415.2 153.5,415.2 C153.8,415.2 154.0,415.6 154.4,417.0 C154.8,418.4 155.4,419.8 156.0,423.6 C156.6,427.4 157.3,434.7 157.8,440.0 C158.3,445.3 158.6,447.8 159.0,455.3 C159.4,462.8 160.1,477.6 160.5,485.0 C160.9,492.4 161.1,490.8 161.6,500.0 C162.1,509.2 162.6,532.3 163.4,540.2 C164.2,548.1 165.1,545.7 166.4,547.2 C167.7,548.7 169.8,548.0 171.4,549.2 C173.0,550.4 173.9,550.8 176.0,554.3 C178.1,557.8 181.7,566.0 184.0,570.3 C186.3,574.6 187.2,576.9 190.1,580.3 C193.0,583.7 198.2,587.7 201.5,590.5 C204.8,593.3 205.7,595.1 209.8,597.3 C213.9,599.5 220.8,602.7 226.3,603.9 C231.8,605.1 239.5,604.7 242.9,604.7 C246.3,604.7 244.6,603.5 246.5,603.8 C248.4,604.1 251.4,606.2 254.4,606.4 C257.4,606.5 261.0,604.8 264.3,604.7 C267.6,604.6 270.0,605.5 274.3,605.8 C278.6,606.1 287.4,606.6 290.0,606.7"/>
<path fill="none" stroke="#abd2b1" stroke-width="0.90" stroke-linejoin="round" d="M56.0,603.1 C57.8,603.0 63.7,602.9 67.0,602.5 C70.3,602.1 73.8,602.1 75.8,600.9 C77.8,599.7 78.2,596.9 79.2,595.4 C80.2,593.9 80.9,592.1 81.9,592.0 C82.9,591.9 84.0,593.7 85.2,594.8 C86.4,595.9 87.9,597.9 89.1,598.7 C90.3,599.5 90.8,599.6 92.4,599.5 C94.1,599.4 97.3,598.9 99.0,598.1 C100.7,597.3 101.4,595.4 102.3,594.8 C103.2,594.2 102.9,594.7 104.3,594.3 C105.7,593.9 108.7,593.4 110.7,592.6 C112.7,591.8 115.0,591.1 116.5,589.3 C118.0,587.5 118.8,583.9 119.9,581.8 C121.0,579.7 121.7,577.8 123.2,576.7 C124.7,575.6 127.3,575.7 129.1,575.1 C130.9,574.5 132.1,574.9 134.0,573.4 C135.9,571.9 138.6,569.1 140.3,566.3 C142.0,563.4 142.8,561.0 144.3,556.3 C145.8,551.6 147.6,543.1 149.3,538.2 C151.0,533.4 152.8,527.5 154.3,527.2 C155.8,526.9 157.0,530.0 158.3,536.2 C159.7,542.4 161.1,556.6 162.4,564.3 C163.8,572.0 164.9,578.6 166.4,582.3 C167.9,586.0 169.5,585.5 171.4,586.4 C173.3,587.2 176.2,586.7 178.0,587.4 C179.8,588.1 180.0,588.6 182.0,590.4 C184.0,592.2 186.8,596.3 190.1,598.0 C193.3,599.7 196.8,599.5 201.5,600.6 C206.2,601.7 212.6,603.7 218.1,604.7 C223.6,605.7 226.9,606.3 234.6,606.4 C242.3,606.5 255.1,605.2 264.3,605.3 C273.5,605.3 285.7,606.5 290.0,606.7"/>
<path fill="none" stroke="#acacac" stroke-width="0.90" stroke-linejoin="round" d="M56.0,603.1 C57.8,603.0 63.7,602.9 67.0,602.5 C70.3,602.1 73.8,602.1 75.8,600.9 C77.8,599.7 78.2,596.9 79.2,595.4 C80.2,593.9 80.9,592.1 81.9,592.0 C82.9,591.9 84.0,593.7 85.2,594.8 C86.4,595.9 87.9,597.9 89.1,598.7 C90.3,599.5 90.8,599.6 92.4,599.5 C94.1,599.4 97.3,598.9 99.0,598.1 C100.7,597.3 101.4,595.4 102.3,594.8 C103.2,594.2 102.6,594.8 104.3,594.7 C106.0,594.6 110.1,594.9 112.4,594.3 C114.7,593.7 116.7,592.8 118.2,591.0 C119.7,589.2 120.5,584.9 121.5,583.4 C122.5,581.9 122.9,581.9 124.0,581.8 C125.1,581.7 126.5,583.0 128.2,583.0 C129.9,583.0 132.0,581.6 134.0,581.8 C136.0,582.0 138.1,583.8 140.3,584.0 C142.5,584.2 145.3,584.2 147.3,583.3 C149.3,582.3 150.6,579.9 152.3,578.3 C154.0,576.7 155.6,573.9 157.3,573.9 C159.0,573.9 160.9,575.5 162.4,578.3 C163.9,581.0 164.9,587.4 166.4,590.4 C167.9,593.4 169.5,595.1 171.4,596.4 C173.3,597.7 175.7,597.6 178.0,598.4 C180.3,599.2 181.1,600.5 185.0,601.4 C188.9,602.3 196.0,603.2 201.5,603.9 C207.0,604.6 207.6,605.2 218.1,605.5 C228.6,605.8 252.3,605.3 264.3,605.5 C276.3,605.7 285.7,606.5 290.0,606.7"/>
<text transform="translate(67.80,366.60) scale(0.9700,1.0000)" font-size="20.60" text-anchor="start" fill="#000" stroke="#000" stroke-width="0.30" stroke-linejoin="round">C</text>
<text transform="translate(173.60,653.60) scale(0.8700,1.0000)" font-size="15.00" text-anchor="middle" fill="#000" stroke="#000" stroke-width="0.30" stroke-linejoin="round">Wavelength (nm)</text>
<text transform="translate(9.20,475.20) scale(0.9300,1.0000) rotate(-90)" font-size="14.80" text-anchor="middle" fill="#000" stroke="#000" stroke-width="0.30" stroke-linejoin="round">Intensity (a.u.)</text>
<line x1="226.40" y1="342.60" x2="248.40" y2="342.60" stroke="#f8b6bb" stroke-width="1.00"/>
<text transform="translate(251.40,347.50) scale(0.9200,1.0000)" font-size="11.40" text-anchor="start" fill="#e00000" stroke="#e00000" stroke-width="0.30" stroke-linejoin="round">0 sec</text>
<line x1="226.40" y1="355.93" x2="248.40" y2="355.93" stroke="#afaff4" stroke-width="1.00"/>
<text transform="translate(251.40,360.83) scale(0.9200,1.0000)" font-size="11.40" text-anchor="start" fill="#0000e0" stroke="#0000e0" stroke-width="0.30" stroke-linejoin="round">2 sec</text>
<line x1="226.40" y1="369.26" x2="248.40" y2="369.26" stroke="#abd2b1" stroke-width="1.00"/>
<text transform="translate(251.40,374.16) scale(0.9200,1.0000)" font-size="11.40" text-anchor="start" fill="#006400" stroke="#006400" stroke-width="0.30" stroke-linejoin="round">4 sec</text>
<line x1="226.40" y1="382.59" x2="248.40" y2="382.59" stroke="#acacac" stroke-width="1.00"/>
<text transform="translate(251.40,387.49) scale(0.9200,1.0000)" font-size="11.40" text-anchor="start" fill="#000000" stroke="#000000" stroke-width="0.30" stroke-linejoin="round">6 sec</text>
<line x1="365.60" y1="341.30" x2="365.60" y2="611.00" stroke="#cecdf6" stroke-width="1.30"/>
<line x1="365.60" y1="611.00" x2="588.40" y2="611.00" stroke="#cecdf6" stroke-width="1.30"/>
<line x1="393.45" y1="611.00" x2="393.45" y2="607.00" stroke="#cecdf6" stroke-width="1.30"/>
<line x1="393.45" y1="341.30" x2="393.45" y2="345.30" stroke="#cecdf6" stroke-width="1.30"/>
<line x1="421.30" y1="611.00" x2="421.30" y2="607.00" stroke="#cecdf6" stroke-width="1.30"/>
<line x1="421.30" y1="341.30" x2="421.30" y2="345.30" stroke="#cecdf6" stroke-width="1.30"/>
<line x1="449.15" y1="611.00" x2="449.15" y2="607.00" stroke="#cecdf6" stroke-width="1.30"/>
<line x1="449.15" y1="341.30" x2="449.15" y2="345.30" stroke="#cecdf6" stroke-width="1.30"/>
<line x1="477.00" y1="611.00" x2="477.00" y2="607.00" stroke="#cecdf6" stroke-width="1.30"/>
<line x1="477.00" y1="341.30" x2="477.00" y2="345.30" stroke="#cecdf6" stroke-width="1.30"/>
<line x1="504.85" y1="611.00" x2="504.85" y2="607.00" stroke="#cecdf6" stroke-width="1.30"/>
<line x1="504.85" y1="341.30" x2="504.85" y2="345.30" stroke="#cecdf6" stroke-width="1.30"/>
<line x1="532.70" y1="611.00" x2="532.70" y2="607.00" stroke="#cecdf6" stroke-width="1.30"/>
<line x1="532.70" y1="341.30" x2="532.70" y2="345.30" stroke="#cecdf6" stroke-width="1.30"/>
<line x1="560.55" y1="611.00" x2="560.55" y2="607.00" stroke="#cecdf6" stroke-width="1.30"/>
<line x1="560.55" y1="341.30" x2="560.55" y2="345.30" stroke="#cecdf6" stroke-width="1.30"/>
<line x1="365.60" y1="577.29" x2="369.60" y2="577.29" stroke="#cecdf6" stroke-width="1.30"/>
<line x1="365.60" y1="543.58" x2="369.60" y2="543.58" stroke="#cecdf6" stroke-width="1.30"/>
<line x1="365.60" y1="509.86" x2="369.60" y2="509.86" stroke="#cecdf6" stroke-width="1.30"/>
<line x1="365.60" y1="476.15" x2="369.60" y2="476.15" stroke="#cecdf6" stroke-width="1.30"/>
<line x1="365.60" y1="442.44" x2="369.60" y2="442.44" stroke="#cecdf6" stroke-width="1.30"/>
<line x1="365.60" y1="408.73" x2="369.60" y2="408.73" stroke="#cecdf6" stroke-width="1.30"/>
<line x1="365.60" y1="375.01" x2="369.60" y2="375.01" stroke="#cecdf6" stroke-width="1.30"/>
<line x1="365.60" y1="341.30" x2="588.40" y2="341.30" stroke="#cecdf6" stroke-width="1.30"/>
<line x1="588.40" y1="341.30" x2="588.40" y2="611.00" stroke="#cecdf6" stroke-width="1.30"/>
<line x1="588.40" y1="557.06" x2="584.40" y2="557.06" stroke="#cecdf6" stroke-width="1.30"/>
<line x1="588.40" y1="503.12" x2="584.40" y2="503.12" stroke="#cecdf6" stroke-width="1.30"/>
<line x1="588.40" y1="449.18" x2="584.40" y2="449.18" stroke="#cecdf6" stroke-width="1.30"/>
<line x1="588.40" y1="395.24" x2="584.40" y2="395.24" stroke="#cecdf6" stroke-width="1.30"/>
<text transform="translate(359.30,614.20) scale(0.8350,1.0000)" font-size="13.70" text-anchor="end" fill="#000" stroke="#000" stroke-width="0.30" stroke-linejoin="round">0</text>
<text transform="translate(359.30,580.49) scale(0.8350,1.0000)" font-size="13.70" text-anchor="end" fill="#000" stroke="#000" stroke-width="0.30" stroke-linejoin="round">500</text>
<text transform="translate(359.30,546.78) scale(0.8350,1.0000)" font-size="13.70" text-anchor="end" fill="#000" stroke="#000" stroke-width="0.30" stroke-linejoin="round">1000</text>
<text transform="translate(359.30,513.06) scale(0.8350,1.0000)" font-size="13.70" text-anchor="end" fill="#000" stroke="#000" stroke-width="0.30" stroke-linejoin="round">1500</text>
<text transform="translate(359.30,479.35) scale(0.8350,1.0000)" font-size="13.70" text-anchor="end" fill="#000" stroke="#000" stroke-width="0.30" stroke-linejoin="round">2000</text>
<text transform="translate(359.30,445.64) scale(0.8350,1.0000)" font-size="13.70" text-anchor="end" fill="#000" stroke="#000" stroke-width="0.30" stroke-linejoin="round">2500</text>
<text transform="translate(359.30,411.93) scale(0.8350,1.0000)" font-size="13.70" text-anchor="end" fill="#000" stroke="#000" stroke-width="0.30" stroke-linejoin="round">3000</text>
<text transform="translate(359.30,378.21) scale(0.8350,1.0000)" font-size="13.70" text-anchor="end" fill="#000" stroke="#000" stroke-width="0.30" stroke-linejoin="round">3500</text>
<text transform="translate(359.30,344.50) scale(0.8350,1.0000)" font-size="13.70" text-anchor="end" fill="#000" stroke="#000" stroke-width="0.30" stroke-linejoin="round">4000</text>
<text transform="translate(594.00,614.20) scale(0.8350,1.0000)" font-size="13.70" text-anchor="start" fill="#000" stroke="#000" stroke-width="0.30" stroke-linejoin="round">0</text>
<text transform="translate(594.00,560.26) scale(0.8350,1.0000)" font-size="13.70" text-anchor="start" fill="#000" stroke="#000" stroke-width="0.30" stroke-linejoin="round">200</text>
<text transform="translate(594.00,506.32) scale(0.8350,1.0000)" font-size="13.70" text-anchor="start" fill="#000" stroke="#000" stroke-width="0.30" stroke-linejoin="round">400</text>
<text transform="translate(594.00,452.38) scale(0.8350,1.0000)" font-size="13.70" text-anchor="start" fill="#000" stroke="#000" stroke-width="0.30" stroke-linejoin="round">600</text>
<text transform="translate(594.00,398.44) scale(0.8350,1.0000)" font-size="13.70" text-anchor="start" fill="#000" stroke="#000" stroke-width="0.30" stroke-linejoin="round">800</text>
<text transform="translate(594.00,344.50) scale(0.8350,1.0000)" font-size="13.70" text-anchor="start" fill="#000" stroke="#000" stroke-width="0.30" stroke-linejoin="round">1000</text>
<text transform="translate(365.60,626.70) scale(0.8350,1.0000)" font-size="13.70" text-anchor="middle" fill="#000" stroke="#000" stroke-width="0.30" stroke-linejoin="round">500</text>
<text transform="translate(393.45,626.70) scale(0.8350,1.0000)" font-size="13.70" text-anchor="middle" fill="#000" stroke="#000" stroke-width="0.30" stroke-linejoin="round">550</text>
<text transform="translate(421.30,626.70) scale(0.8350,1.0000)" font-size="13.70" text-anchor="middle" fill="#000" stroke="#000" stroke-width="0.30" stroke-linejoin="round">600</text>
<text transform="translate(449.15,626.70) scale(0.8350,1.0000)" font-size="13.70" text-anchor="middle" fill="#000" stroke="#000" stroke-width="0.30" stroke-linejoin="round">650</text>
<text transform="translate(477.00,626.70) scale(0.8350,1.0000)" font-size="13.70" text-anchor="middle" fill="#000" stroke="#000" stroke-width="0.30" stroke-linejoin="round">700</text>
<text transform="translate(504.85,626.70) scale(0.8350,1.0000)" font-size="13.70" text-anchor="middle" fill="#000" stroke="#000" stroke-width="0.30" stroke-linejoin="round">750</text>
<text transform="translate(532.70,626.70) scale(0.8350,1.0000)" font-size="13.70" text-anchor="middle" fill="#000" stroke="#000" stroke-width="0.30" stroke-linejoin="round">800</text>
<text transform="translate(560.55,626.70) scale(0.8350,1.0000)" font-size="13.70" text-anchor="middle" fill="#000" stroke="#000" stroke-width="0.30" stroke-linejoin="round">850</text>
<text transform="translate(588.40,626.70) scale(0.8350,1.0000)" font-size="13.70" text-anchor="middle" fill="#000" stroke="#000" stroke-width="0.30" stroke-linejoin="round">900</text>
<path fill="none" stroke="#f8b6bb" stroke-width="0.90" stroke-linejoin="round" d="M365.0,606.8 C366.7,606.4 371.6,605.5 375.0,604.4 C378.4,603.3 381.8,601.5 385.1,600.4 C388.5,599.3 391.8,598.9 395.1,598.0 C398.4,597.1 401.8,596.1 405.1,594.8 C408.5,593.5 412.2,591.6 415.2,590.4 C418.2,589.2 420.9,589.1 423.2,587.4 C425.5,585.7 427.4,581.8 429.2,580.3 C431.0,578.8 432.5,579.4 434.2,578.7 C435.9,578.0 437.9,579.4 439.3,576.3 C440.7,573.2 441.3,569.7 442.3,560.3 C443.3,550.9 444.5,533.5 445.3,520.1 C446.1,506.7 446.6,499.9 447.3,480.0 C448.0,460.1 449.0,419.3 449.7,400.8 C450.4,382.3 451.0,376.0 451.7,369.2 C452.4,362.4 453.3,361.7 454.1,359.9 C454.9,358.1 455.6,357.9 456.3,358.2 C457.0,358.5 457.5,356.8 458.2,361.9 C458.9,367.0 460.0,376.0 460.7,388.6 C461.4,401.2 461.9,422.1 462.4,437.3 C462.9,452.5 463.2,462.9 463.9,480.0 C464.5,497.1 465.4,523.3 466.3,540.2 C467.2,557.1 467.8,573.8 469.0,581.3 C470.2,588.8 472.0,583.5 473.4,585.4 C474.8,587.2 475.5,590.6 477.4,592.4 C479.3,594.2 482.9,595.8 485.0,596.0 C487.1,596.2 488.4,593.3 490.1,593.4 C491.8,593.5 493.3,595.6 495.1,596.4 C496.9,597.2 498.4,598.0 501.1,598.4 C503.8,598.8 507.4,598.5 511.1,598.8 C514.8,599.1 517.5,599.8 523.2,600.0 C528.9,600.2 539.2,599.9 545.2,600.0 C551.2,600.1 554.9,600.0 559.3,600.4 C563.6,600.8 567.6,601.9 571.3,602.4 C575.0,602.9 578.5,603.0 581.4,603.4 C584.2,603.8 587.2,604.6 588.4,604.8"/>
<polyline fill="none" stroke="#afaff4" stroke-width="0.90" stroke-linejoin="round" points="365.0,590.0 365.7,591.1 366.6,592.5 367.8,593.9 369.0,595.6 370.9,595.4 373.0,595.8 375.0,595.3 376.7,594.6 378.3,594.6 380.1,592.9 381.1,592.3 382.2,590.7 383.3,589.3 384.5,588.2 385.7,587.2 387.1,585.0 388.2,584.1 389.4,583.4 390.7,582.7 392.0,581.2 393.4,579.9 394.7,579.6 395.9,577.6 397.1,577.7 398.9,576.0 400.5,575.1 402.1,574.4 403.7,573.9 405.1,573.6 406.8,571.7 408.3,570.8 409.7,569.5 411.2,568.2 413.1,567.5 415.1,566.4 417.2,565.8 418.7,565.5 420.4,565.5 422.0,564.6 423.7,563.8 425.2,563.4 426.9,562.3 428.4,561.0 429.8,560.3 431.2,558.5 432.0,556.8 432.7,555.9 433.5,554.4 434.2,553.2 434.9,551.5 435.5,549.4 436.2,548.7 436.9,546.0 437.6,544.6 438.3,543.2 439.0,540.8 439.6,539.6 440.3,537.7 441.3,537.1 442.4,536.4 443.4,535.3 444.3,533.6 444.6,531.8 445.0,530.9 445.3,529.3 445.6,527.7 445.9,525.8 446.2,524.0 446.5,522.1 446.8,520.2 447.0,518.1 447.3,516.1 447.5,514.7 447.6,513.2 447.8,511.7 447.9,510.1 448.1,508.5 448.2,506.9 448.3,505.2 448.5,503.5 448.6,501.8 448.7,500.1 448.8,498.5 448.9,496.8 449.1,495.2 449.2,493.6 449.3,492.0 449.4,490.3 449.5,488.6 449.6,487.0 449.7,485.4 449.8,483.9 449.9,482.3 450.0,480.7 450.1,479.1 450.2,477.5 450.3,475.8 450.5,474.0 450.6,472.0 450.8,470.0 450.9,468.6 451.1,467.2 451.2,465.8 451.4,464.4 451.5,463.0 451.7,461.5 451.9,460.0 452.1,458.5 452.3,456.9 452.4,455.3 452.6,453.7 452.8,452.0 453.0,450.4 453.2,448.6 453.3,446.9 453.5,445.0 453.7,443.2 453.8,441.3 454.0,439.3 454.1,437.3 454.2,435.9 454.3,434.5 454.3,433.0 454.4,431.5 454.5,430.0 454.5,428.4 454.6,426.8 454.7,425.1 454.7,423.5 454.8,421.8 454.8,420.1 454.9,418.4 454.9,416.7 455.0,414.9 455.1,413.2 455.1,411.4 455.1,409.7 455.2,408.0 455.2,406.2 455.3,404.5 455.3,402.8 455.4,401.1 455.4,399.5 455.5,397.8 455.5,396.2 455.6,394.6 455.6,393.0 455.7,391.5 455.7,390.0 455.8,388.6 455.9,386.7 456.0,384.7 456.0,382.8 456.1,380.8 456.2,378.9 456.3,377.0 456.3,375.1 456.4,373.3 456.5,371.4 456.6,369.6 456.6,367.8 456.7,366.1 456.8,364.4 456.9,362.8 456.9,361.2 457.0,359.7 457.1,358.3 457.2,356.9 457.3,355.6 457.3,354.4 457.4,353.3 457.5,352.2 457.9,348.6 458.3,346.3 458.7,345.0 459.1,344.5 459.5,344.4 459.9,344.5 460.3,345.0 460.6,346.3 461.0,348.6 461.4,352.2 461.5,353.3 461.6,354.4 461.7,355.6 461.8,356.9 461.9,358.3 462.0,359.7 462.1,361.2 462.2,362.8 462.3,364.4 462.4,366.1 462.4,367.8 462.5,369.6 462.6,371.4 462.8,373.3 462.9,375.1 463.0,377.0 463.1,378.9 463.2,380.8 463.3,382.8 463.4,384.7 463.5,386.7 463.6,388.6 463.7,390.0 463.8,391.5 463.8,393.0 463.9,394.5 464.0,396.1 464.1,397.6 464.2,399.2 464.3,400.9 464.4,402.5 464.5,404.1 464.6,405.8 464.6,407.5 464.7,409.2 464.8,410.9 464.9,412.6 465.0,414.3 465.1,416.0 465.2,417.7 465.3,419.4 465.4,421.1 465.5,422.7 465.6,424.4 465.7,426.1 465.8,427.7 465.8,429.4 465.9,431.0 466.0,432.6 466.1,434.2 466.2,435.8 466.3,437.3 466.4,439.1 466.5,440.8 466.6,442.6 466.7,444.3 466.8,446.1 466.9,447.8 467.0,449.6 467.1,451.3 467.2,453.0 467.4,454.7 467.5,456.4 467.6,458.1 467.7,459.8 467.8,461.5 467.9,463.1 468.0,464.8 468.1,466.4 468.2,468.0 468.3,469.6 468.4,471.1 468.5,472.7 468.6,474.2 468.7,475.7 468.8,477.1 468.9,478.6 469.0,480.0 469.1,482.0 469.3,483.9 469.4,485.7 469.5,487.4 469.7,489.1 469.8,490.7 469.9,492.3 470.0,493.9 470.1,495.5 470.3,497.0 470.4,498.5 470.5,500.1 470.7,501.7 470.8,503.2 470.9,504.9 471.1,506.6 471.2,508.3 471.4,510.1 471.5,511.6 471.7,513.2 471.8,514.9 472.0,517.0 472.2,518.8 472.3,520.1 472.5,522.1 472.7,523.2 472.9,525.7 473.0,527.5 473.2,529.7 473.4,531.3 473.6,532.5 473.8,534.3 473.9,536.3 474.1,537.3 474.3,539.3 474.4,540.5 474.6,541.9 474.7,543.2 474.9,545.3 475.0,545.8 475.3,548.8 475.6,551.3 475.8,553.8 476.0,554.5 476.2,556.4 476.5,557.8 476.7,559.4 477.0,560.7 477.5,562.7 478.1,563.8 478.8,565.5 479.4,566.8 480.0,568.7 481.0,571.2 482.1,572.3 483.0,573.5 484.0,572.3 485.0,571.0 486.0,572.4 487.1,574.4 488.0,576.0 488.4,577.7 488.5,580.2 489.0,582.2 489.8,583.7 490.7,585.5 491.9,586.4 493.1,587.4 494.5,588.6 496.0,589.7 497.6,589.9 499.1,591.8 500.5,592.9 501.9,594.2 503.2,595.2 504.1,595.3 505.1,592.3 506.4,593.0 508.1,595.5 509.2,596.2 510.4,597.6 512.1,599.1 513.6,599.7 515.3,600.5 517.3,600.8 519.2,601.3 521.2,602.0 522.8,602.4 524.5,603.2 526.1,603.2 527.8,604.6 529.5,604.6 531.2,604.4 532.9,604.8 534.7,605.1 536.5,605.2 538.2,605.0 539.8,605.9 541.2,605.9 543.2,604.7 544.7,603.8 546.2,602.9 547.8,603.6 549.5,604.9 551.3,605.7 552.9,606.8 554.7,606.3 556.4,606.3 557.8,607.1 559.1,605.6 560.0,603.7 560.8,602.5 561.7,600.2 562.6,598.8 563.5,598.0 566.0,598.7 567.0,599.5 568.0,600.3 569.4,601.7 570.8,602.4 572.4,604.1 574.0,604.8 575.4,605.6 577.2,604.8 578.9,604.1 581.2,605.0 583.6,605.8 585.3,606.5 587.1,607.4 588.3,607.7"/>
<text transform="translate(383.20,373.90) scale(0.9700,1.0000)" font-size="21.00" text-anchor="start" fill="#000" stroke="#000" stroke-width="0.30" stroke-linejoin="round">D</text>
<text transform="translate(482.90,654.50) scale(0.8700,1.0000)" font-size="15.00" text-anchor="middle" fill="#000" stroke="#000" stroke-width="0.30" stroke-linejoin="round">Wavelength (nm)</text>
<text transform="translate(318.70,476.00) scale(0.9300,1.0000) rotate(-90)" font-size="15.40" text-anchor="middle" fill="#000" stroke="#000" stroke-width="0.30" stroke-linejoin="round">Reflection Intensity (a.u.)</text>
<text transform="translate(626.80,475.00) scale(0.9300,1.0000) rotate(90)" font-size="15.40" text-anchor="middle" fill="#000" stroke="#000" stroke-width="0.30" stroke-linejoin="round">Photoluminescence Intensity (a.u.)</text>
<line x1="505.70" y1="363.60" x2="528.00" y2="363.60" stroke="#f8b6bb" stroke-width="1.00"/>
<text transform="translate(530.30,368.30) scale(0.8400,1.0000)" font-size="12.00" text-anchor="start" fill="#e00000" stroke="#e00000" stroke-width="0.30" stroke-linejoin="round">Reflection</text>
<line x1="505.70" y1="384.30" x2="528.00" y2="384.30" stroke="#afaff4" stroke-width="1.00"/>
<text transform="translate(530.30,389.00) scale(0.8400,1.0000)" font-size="12.00" text-anchor="start" fill="#0000e0" stroke="#0000e0" stroke-width="0.30" stroke-linejoin="round">PL</text>
</svg>
</body></html>
